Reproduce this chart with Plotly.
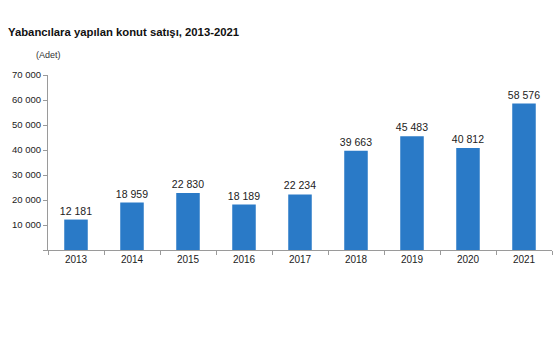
import plotly.graph_objects as go

years = ["2013", "2014", "2015", "2016", "2017", "2018", "2019", "2020", "2021"]
sales = [12181, 18959, 22830, 18189, 22234, 39663, 45483, 40812, 58576]
ytick_vals = [0, 10000, 20000, 30000, 40000, 50000, 60000, 70000]
ytick_text = ["", "10 000", "20 000", "30 000", "40 000", "50 000", "60 000", "70 000"]

W, H = 555, 355
fig = go.Figure()
fig.add_trace(go.Bar(
    x=years, y=sales,
    marker=dict(color="#2a7ac7", line=dict(width=0)),
    text=[f"{v:,}".replace(",", " ") for v in sales],
    textposition="outside",
    constraintext="none",
    textfont=dict(family="Liberation Sans, Arial", size=10.5, color="#222222"),
    cliponaxis=False,
))

fig.update_layout(
    width=W, height=H,
    margin=dict(l=48, r=3, t=75, b=105),
    paper_bgcolor="white", plot_bgcolor="white",
    bargap=0.58,
    showlegend=False,
    font=dict(family="Liberation Sans, Arial", size=10, color="#222222"),
    title=dict(text="<b>Yabancılara yapılan konut satışı, 2013-2021</b>",
               x=8 / W, xanchor="left", xref="container", y=1 - 32 / H, yanchor="middle",
               yref="container",
               font=dict(size=11.3, color="#111111")),
    annotations=[dict(text="(Adet)", xref="paper", yref="paper",
                      x=(34 - 48) / (W - 51), y=1 + (75 - 55) / (H - 180),
                      xanchor="left", yanchor="middle", showarrow=False,
                      font=dict(size=9, color="#333333"))],
)
fig.update_xaxes(
    type="category", showline=True, linecolor="#9a9a9a", linewidth=1,
    ticks="outside", tickson="boundaries", ticklen=4, tickcolor="#9a9a9a",
    tickfont=dict(size=10, color="#222222"), showgrid=False,
)
fig.update_yaxes(
    range=[0, 70000], tickvals=ytick_vals, ticktext=ytick_text,
    showline=True, linecolor="#9a9a9a", linewidth=1,
    ticks="outside", ticklen=4, tickcolor="#9a9a9a",
    tickfont=dict(size=9.5, color="#222222"), showgrid=False, zeroline=False,
)

fig.write_html("out.html")
